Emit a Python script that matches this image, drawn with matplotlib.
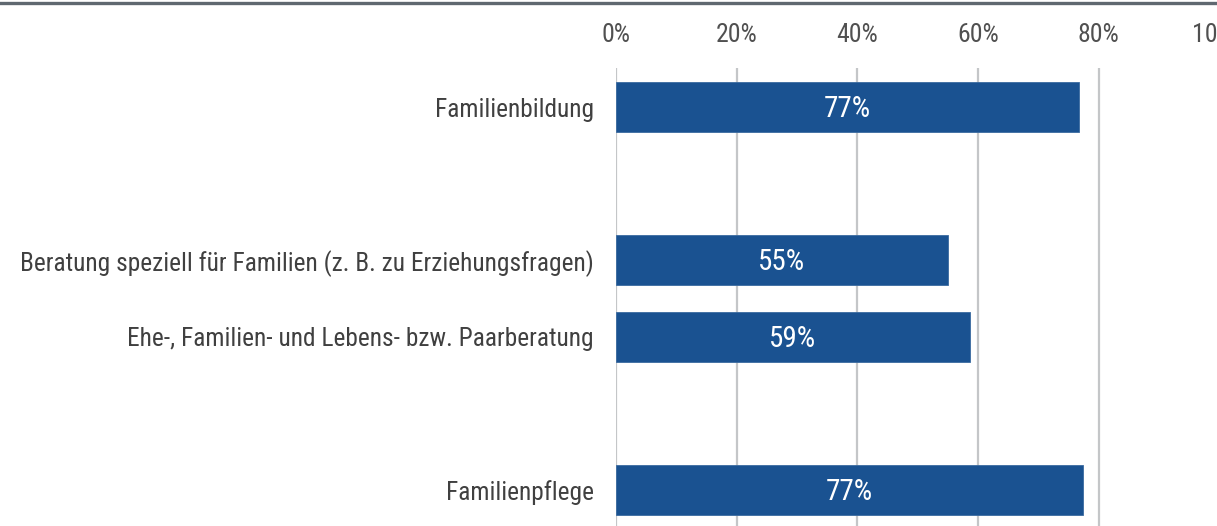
import matplotlib.pyplot as plt
from matplotlib.lines import Line2D
import numpy as np

plt.rcParams['font.family'] = ['Roboto Condensed', 'DejaVu Sans']

# blank rows are gaps between groups
categories = ["Familienbildung", "",
              "Beratung speziell für Familien (z. B. zu Erziehungsfragen)",
              "Ehe-, Familien- und Lebens- bzw. Paarberatung", "",
              "Familienpflege"]
values = [77, None, 55, 59, None, 77]
bar_ends = [76.7, None, 55.0, 58.6, None, 77.3]  # drawn length in %
ticks = [0, 20, 40, 60, 80, 100]

fig = plt.figure(figsize=(12.17, 5.26), dpi=100)
ax = fig.add_axes([616 / 1217, 0, 603.5 / 1217, 1 - 68 / 526])

ypos = np.arange(len(categories))
for y, v, e in zip(ypos, values, bar_ends):
    if v is None:
        continue
    ax.barh(y, e, height=0.655, color='#1a5291', edgecolor='#3a6aa0', linewidth=0.6, zorder=3)
    ax.text(e / 2, y + 0.03, f"{v}%", color='white', ha='center', va='center', fontsize=21, zorder=4)

ax.set_xlim(0, 100)
ax.set_ylim((526 - 107) / 76.6, -39 / 76.6)
ax.set_yticks(ypos)
ax.set_yticklabels(categories, fontsize=18.3, color='#404040')
ax.tick_params(axis='y', length=0, pad=16)
ax.xaxis.tick_top()
ax.set_xticks(ticks)
ax.set_xticklabels([f"{t}%" for t in ticks], fontsize=18.5, color='#505050')
ax.tick_params(axis='x', length=0, pad=15)
ax.grid(axis='x', color='#c4c6c8', linewidth=1.6, zorder=0)
for s in ax.spines.values():
    s.set_visible(False)

fig.add_artist(Line2D([0, 1], [1 - 3 / 526, 1 - 3 / 526], color='#5f6870', linewidth=2.4))

fig.savefig('out.png', dpi=100)
